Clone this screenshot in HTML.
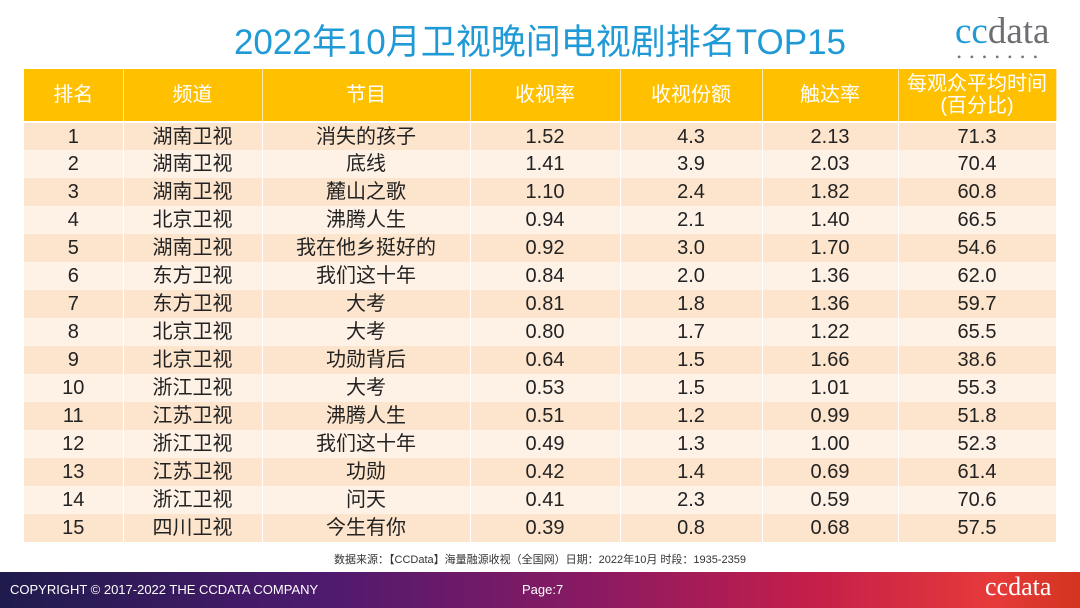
<!DOCTYPE html>
<html><head><meta charset="utf-8">
<style>
*{margin:0;padding:0;box-sizing:border-box}
body{width:1080px;height:608px;background:#fff;position:relative;overflow:hidden;font-family:"Liberation Sans","Noto Sans CJK SC",sans-serif}
#title{position:absolute;left:0;width:1080px;top:18px;text-align:center;font-size:35px;line-height:50px;color:#1f9ad6}
#logo{position:absolute;left:955px;top:10px;font-family:"Liberation Serif",serif;font-size:37px;color:#6d6e71}
#logo span{color:#1f9ad6}
#logo i{position:absolute;left:2px;top:40px;font-style:normal;font-size:12px;letter-spacing:8.5px;color:#777}
table{position:absolute;left:24px;top:69px;width:1032px;border-collapse:collapse;table-layout:fixed}
th{background:#ffc000;color:#fff;font-weight:normal;font-size:20px;height:53px;padding:0;border-right:1px solid #fde8b0;border-bottom:2px solid #fff;line-height:22px}
td{height:28px;padding:0;line-height:26px;text-align:center;font-size:20px;color:#222;border-right:1px solid #fff;overflow:hidden;white-space:nowrap}
tr.o td{background:#fde5cd}
tr.e td{background:#fef2e7}
#src{position:absolute;top:551px;left:0;width:1080px;text-align:center;font-size:11px;color:#333}
#foot{position:absolute;left:0;top:572px;width:1080px;height:36px;background:linear-gradient(90deg,#1f1b4d 0%,#4e1a6e 30%,#8a1a62 55%,#c41e4a 75%,#e63a3a 92%,#d3341f 100%);color:#fff}
#copy{position:absolute;left:10px;top:10px;font-size:13px}
#page{position:absolute;left:522px;top:10px;font-size:13px}
#flogo{position:absolute;left:985px;top:0px;font-family:"Liberation Serif",serif;font-size:26px}
</style></head><body>
<div id="title">2022年10月卫视晚间电视剧排名TOP15</div>
<div id="logo"><span>cc</span>data<i>•••••••</i></div>
<table>
<colgroup><col style="width:99px"><col style="width:139px"><col style="width:208px"><col style="width:150px"><col style="width:142px"><col style="width:136px"><col style="width:158px"></colgroup>
<thead><tr>
<th>排名</th>
<th>频道</th>
<th>节目</th>
<th>收视率</th>
<th>收视份额</th>
<th>触达率</th>
<th>每观众平均时间<br>(百分比)</th>
</tr></thead>
<tbody id="tb"></tbody>
</table>
<div id="src">数据来源：【CCData】海量融源收视（全国网）日期：2022年10月 时段：1935-2359</div>
<div id="foot">
<div id="copy">COPYRIGHT © 2017-2022 THE CCDATA COMPANY</div>
<div id="page">Page:7</div>
<div id="flogo">ccdata</div>
</div>
<script>
const channels=["湖南卫视","湖南卫视","湖南卫视","北京卫视","湖南卫视","东方卫视","东方卫视","北京卫视","北京卫视","浙江卫视","江苏卫视","浙江卫视","江苏卫视","浙江卫视","四川卫视"];
const programs=["消失的孩子","底线","麓山之歌","沸腾人生","我在他乡挺好的","我们这十年","大考","大考","功勋背后","大考","沸腾人生","我们这十年","功勋","问天","今生有你"];
const ratings=["1.52","1.41","1.10","0.94","0.92","0.84","0.81","0.80","0.64","0.53","0.51","0.49","0.42","0.41","0.39"];
const shares=["4.3","3.9","2.4","2.1","3.0","2.0","1.8","1.7","1.5","1.5","1.2","1.3","1.4","2.3","0.8"];
const reaches=["2.13","2.03","1.82","1.40","1.70","1.36","1.36","1.22","1.66","1.01","0.99","1.00","0.69","0.59","0.68"];
const avgTimes=["71.3","70.4","60.8","66.5","54.6","62.0","59.7","65.5","38.6","55.3","51.8","52.3","61.4","70.6","57.5"];
const tb=document.getElementById('tb');
const colNames=['rank','channel','program','rating','share','reach','avg-time'];
for(let i=0;i<channels.length;i++){
  const tr=document.createElement('tr');
  tr.className=i%2?'e':'o';
  
  
  const vals=[String(i+1),channels[i],programs[i],ratings[i],shares[i],reaches[i],avgTimes[i]];
  vals.forEach((v,j)=>{
    const td=document.createElement('td');
    td.textContent=v;
    
    
    tr.appendChild(td);
  });
  tb.appendChild(tr);
}
</script>
</body></html>
